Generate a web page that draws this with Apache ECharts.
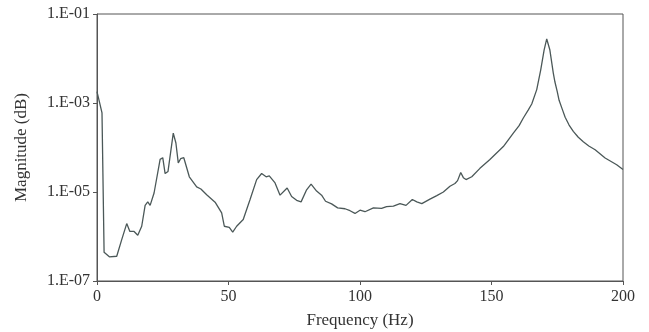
<!DOCTYPE html>
<html>
<head>
<meta charset="utf-8">
<script src="https://cdn.jsdelivr.net/npm/echarts@6/dist/echarts.min.js"></script>
<style>
  html, body { margin: 0; padding: 0; background: #fff; }
  #chart { width: 649px; height: 332px; }
</style>
</head>
<body>
<div id="chart"></div>
<script>
// Frequency (Hz) of each point
const freq = [
  0, 1.9, 2.7, 4.7, 7.5, 9.4, 11.3, 12.5, 14.1, 15.5, 17, 18.3, 19.3, 20.2, 21.7,
  24, 25, 25.9, 27, 29, 30, 30.9, 31.8, 33, 35.1, 37.9, 39.5, 41.7, 44.9, 47.4,
  48.4, 50.3, 51.6, 53.1, 55.6, 58.2, 60.7, 62.6, 64.3, 65.5, 67.7, 69.6, 72.3,
  74, 75.9, 77.6, 79.7, 81.4, 83.5, 85.4, 86.9, 89.2, 91.5, 94.3, 96.2, 98.1,
  100, 101.9, 105.1, 108.2, 110.1, 112.7, 115.2, 117.5, 119.9, 121.6, 123.5,
  126.6, 129.2, 131.7, 134.2, 136.1, 137.1, 138.3, 139.3, 140.3, 142.5, 145.6,
  149.4, 154.5, 158.3, 160.5, 162.1, 164, 165.3, 167.2, 168.7, 170, 171, 172.2, 173.5, 174.1,
  175, 175.7, 177, 178, 179.5, 181.1, 183, 184.9, 187, 189.4, 193.2, 197.6, 200
];

// Magnitude at each frequency
const magnitude = [
  1.8e-3, 6.0e-4, 4.4e-7, 3.5e-7, 3.6e-7, 8.5e-7, 1.95e-6, 1.3e-6, 1.3e-6, 1.07e-6, 1.7e-6, 5.0e-6, 6.0e-6, 5.0e-6, 9.5e-6,
  5.4e-5, 5.9e-5, 2.6e-5, 2.9e-5, 2.1e-4, 1.26e-4, 4.5e-5, 5.6e-5, 5.9e-5, 2.2e-5, 1.3e-5, 1.17e-5, 8.7e-6, 5.9e-6, 3.4e-6,
  1.7e-6, 1.6e-6, 1.26e-6, 1.7e-6, 2.4e-6, 6.8e-6, 1.9e-5, 2.6e-5, 2.2e-5, 2.3e-5, 1.6e-5, 8.5e-6, 1.23e-5,
  7.9e-6, 6.5e-6, 6.0e-6, 1.12e-5, 1.5e-5, 1.05e-5, 8.5e-6, 6.2e-6, 5.4e-6, 4.4e-6, 4.2e-6, 3.8e-6, 3.3e-6,
  3.9e-6, 3.6e-6, 4.4e-6, 4.3e-6, 4.7e-6, 4.8e-6, 5.5e-6, 5.0e-6, 6.8e-6, 6.0e-6, 5.5e-6,
  6.9e-6, 8.3e-6, 1.0e-5, 1.35e-5, 1.55e-5, 1.8e-5, 2.75e-5, 2.1e-5, 1.9e-5, 2.2e-5, 3.4e-5,
  5.4e-5, 1.05e-4, 2.1e-4, 3.1e-4, 4.6e-4, 7.0e-4, 9.5e-4, 2.0e-3, 5.5e-3, 1.55e-2, 2.75e-2, 1.55e-2, 4.7e-3, 3.0e-3,
  1.8e-3, 1.15e-3, 7.0e-4, 4.8e-4, 3.2e-4, 2.3e-4, 1.7e-4, 1.35e-4, 1.08e-4, 8.9e-5, 5.8e-5, 4.1e-5, 3.2e-5
];

// y tick values shown on the axis
const yTicks = [1e-7, 1e-5, 1e-3, 1e-1];

const seriesData = freq.map((f, i) => [f, magnitude[i]]);

function fmtExp(v) {
  const e = Math.round(Math.log10(v));
  const s = String(Math.abs(e)).padStart(2, '0');
  return '1.E' + (e < 0 ? '-' : '+') + s;
}

var chartDom = document.getElementById('chart');
var myChart = echarts.init(chartDom, null, { renderer: 'canvas' });
var option;

const axisColor = '#555';
const textColor = '#333';
const fontFamily = '"Liberation Serif", "Times New Roman", serif';

option = {
  animation: false,
  grid: {
    left: 97,
    right: 26,
    top: 14,
    bottom: 51,
    outerBoundsMode: 'none',
    show: true,
    borderColor: axisColor,
    borderWidth: 1,
  },
  xAxis: {
    type: 'value',
    min: 0,
    max: 200,
    interval: 50,
    name: 'Frequency (Hz)',
    nameLocation: 'middle',
    nameGap: 31,
    nameTextStyle: { fontFamily: fontFamily, fontSize: 17, color: textColor },
    axisLine: { show: true, lineStyle: { color: axisColor, width: 1 } },
    axisTick: { show: true, length: 4, lineStyle: { color: axisColor } },
    axisLabel: { fontFamily: fontFamily, fontSize: 16, color: textColor, margin: 8 },
    splitLine: { show: false },
  },
  yAxis: {
    type: 'log',
    logBase: 10,
    min: 1e-7,
    max: 1e-1,
    name: 'Magnitude (dB)',
    nameLocation: 'middle',
    nameRotate: 90,
    nameGap: 67,
    nameTextStyle: { fontFamily: fontFamily, fontSize: 17, color: textColor },
    axisLine: { show: true, lineStyle: { color: axisColor, width: 1 } },
    axisTick: { show: true, length: 4, lineStyle: { color: axisColor }, customValues: yTicks },
    axisLabel: {
      fontFamily: fontFamily, fontSize: 16, color: textColor, margin: 7,
      customValues: yTicks,
      formatter: fmtExp,
    },
    splitLine: { show: false },
  },
  series: [
    {
      type: 'line',
      data: seriesData,
      showSymbol: false,
      smooth: false,
      lineStyle: { color: '#4b5858', width: 1.3 },
    },
  ],
};

option && myChart.setOption(option);
</script>
</body>
</html>
